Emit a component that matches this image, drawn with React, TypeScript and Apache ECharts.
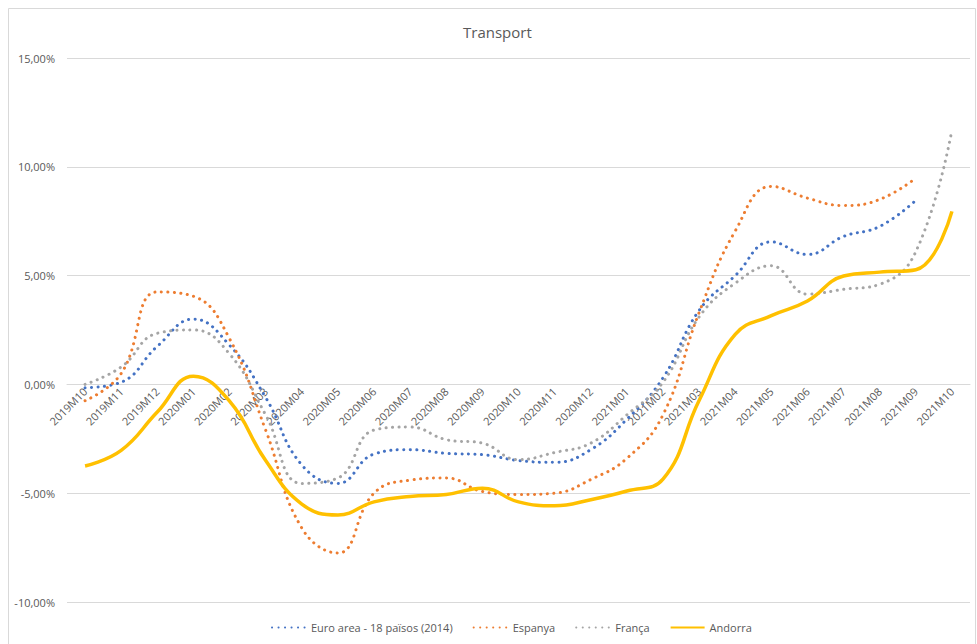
import React, { useEffect, useRef } from "react";
import * as echarts from "echarts";

const categories = [
  "2019M10", "2019M11", "2019M12", "2020M01", "2020M02", "2020M03", "2020M04",
  "2020M05", "2020M06", "2020M07", "2020M08", "2020M09", "2020M10", "2020M11",
  "2020M12", "2021M01", "2021M02", "2021M03", "2021M04", "2021M05", "2021M06",
  "2021M07", "2021M08", "2021M09", "2021M10",
];

const euroArea = [-0.15, 0.1, 1.75, 3.0, 1.8, -0.6, -3.7, -4.55, -3.2, -3.0, -3.17, -3.23, -3.5, -3.58, -3.0, -1.6, 0.3, 3.4, 5.0, 6.55, 5.97, 6.8, 7.26, 8.46, null];
const espanya = [-0.75, 0.5, 4.25, 4.05, 2.1, -2.1, -6.6, -7.75, -5.0, -4.4, -4.3, -4.92, -5.06, -5.0, -4.37, -3.4, -1.4, 3.3, 7.05, 9.1, 8.56, 8.22, 8.5, 9.48, null];
const franca = [0.0, 0.8, 2.35, 2.5, 1.4, -1.4, -4.55, -4.3, -2.1, -1.96, -2.54, -2.7, -3.46, -3.13, -2.7, -1.4, 0.1, 3.1, 4.65, 5.45, 4.15, 4.37, 4.6, 6.1, 11.7];
const andorra = [-3.75, -3.03, -1.27, 0.38, -0.77, -3.5, -5.5, -6.0, -5.4, -5.15, -5.06, -4.77, -5.4, -5.58, -5.3, -4.9, -4.35, -0.74, 2.3, 3.16, 3.83, 4.98, 5.16, 5.27, 7.95];

const seriesNames = ["Euro area - 18 països (2014)", "Espanya", "França", "Andorra"];
const seriesColors = ["#4472C4", "#ED7D31", "#A5A5A5", "#FFC000"];

const FONT = "'Open Sans', 'Liberation Sans', sans-serif";

export default function App() {
  const ref = useRef<HTMLDivElement>(null);

  useEffect(() => {
    if (!ref.current) return;
    const chart = echarts.init(ref.current, null, { renderer: "svg" });
    const dataSets = [euroArea, espanya, franca, andorra];
    const dotted = (c: string) => ({
      color: c,
      width: 3,
      type: [0.1, 6.4] as any,
      cap: "round" as const,
    });
    chart.setOption({
      animation: false,
      backgroundColor: "#ffffff",
      title: {
        text: "Transport",
        left: 458,
        top: 19,
        textStyle: { fontFamily: FONT, fontSize: 15, fontWeight: "normal", color: "#595959" },
      },
      graphic: [
        {
          type: "rect",
          shape: { x: 8.5, y: 8.5, width: 967, height: 640 },
          style: { fill: "none", stroke: "#d9d9d9", lineWidth: 1 },
          silent: true,
        },
      ],
      legend: {
        bottom: 6,
        left: 266,
        itemGap: 20,
        itemWidth: 34,
        itemHeight: 10,
        itemStyle: { opacity: 0 },
        textStyle: { fontFamily: FONT, fontSize: 11, color: "#595959" },
        data: seriesNames.map((n) => ({ name: n })),
      },
      grid: { left: 67, right: 7, top: 58, bottom: 42, containLabel: false, outerBoundsMode: "none" },
      xAxis: {
        type: "category",
        data: categories,
        boundaryGap: true,
        offset: -217.6,
        axisLine: { onZero: false, lineStyle: { color: "#d9d9d9", width: 1 } },
        axisTick: { show: false },
        axisLabel: {
          rotate: 45,
          interval: 0,
          margin: 5,
          fontFamily: FONT,
          fontSize: 11,
          color: "#595959",
        },
      },
      yAxis: {
        type: "value",
        min: -10,
        max: 15,
        interval: 5,
        axisLine: { show: false },
        axisTick: { show: false },
        splitLine: { lineStyle: { color: "#d9d9d9", width: 1 } },
        axisLabel: {
          margin: 12,
          fontFamily: FONT,
          fontSize: 11,
          color: "#595959",
          formatter: (v: number) => v.toFixed(2).replace(".", ",") + "%",
        },
      },
      series: dataSets.map((d, i) => ({
        name: seriesNames[i],
        type: "line",
        data: d,
        smooth: 0.45,
        symbol: "none",
        connectNulls: false,
        color: seriesColors[i],
        lineStyle: i === 3 ? { color: seriesColors[i], width: 3.5 } : dotted(seriesColors[i]),
        z: i === 3 ? 3 : 2,
      })),
    });
    return () => chart.dispose();
  }, []);

  return (
    <div
      ref={ref}
      style={{ position: "fixed", left: 0, top: 0, width: 977, height: 644 }}
    />
  );
}
